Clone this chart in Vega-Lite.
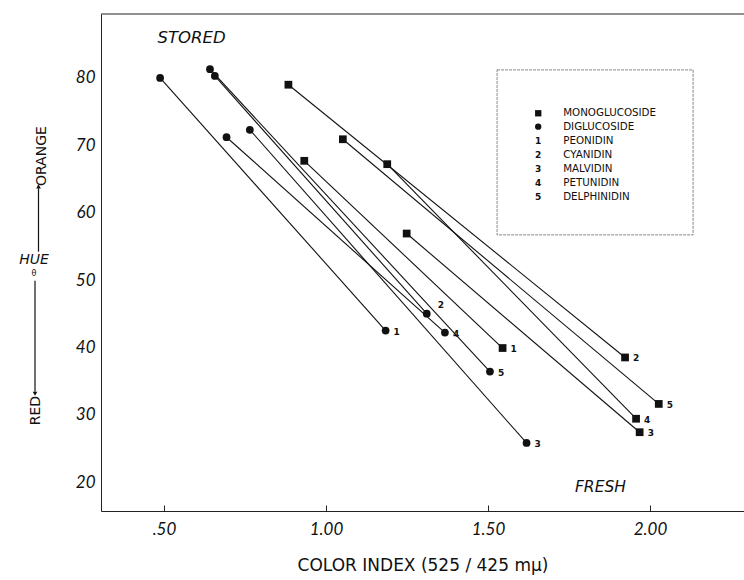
{
  "$schema": "https://vega.github.io/schema/vega-lite/v6.json",
  "width": 643,
  "height": 497,
  "autosize": {"type": "none"},
  "padding": {"left": 101, "top": 14, "right": 0, "bottom": 69},
  "background": "white",
  "config": {"view": {"stroke": null}, "font": "Lato"},
  "datasets": {
    "pts": [
      {"type": "DIGLUCOSIDE", "pigment": 1, "state": "stored", "ci": 0.488, "hue": 80.0},
      {"type": "DIGLUCOSIDE", "pigment": 1, "state": "fresh", "ci": 1.184, "hue": 42.5},
      {"type": "DIGLUCOSIDE", "pigment": 5, "state": "stored", "ci": 0.642, "hue": 81.3},
      {"type": "DIGLUCOSIDE", "pigment": 5, "state": "fresh", "ci": 1.506, "hue": 36.4},
      {"type": "DIGLUCOSIDE", "pigment": 2, "state": "stored", "ci": 0.657, "hue": 80.3},
      {"type": "DIGLUCOSIDE", "pigment": 2, "state": "fresh", "ci": 1.311, "hue": 45.0},
      {"type": "DIGLUCOSIDE", "pigment": 4, "state": "stored", "ci": 0.693, "hue": 71.2},
      {"type": "DIGLUCOSIDE", "pigment": 4, "state": "fresh", "ci": 1.367, "hue": 42.2},
      {"type": "DIGLUCOSIDE", "pigment": 3, "state": "stored", "ci": 0.765, "hue": 72.3},
      {"type": "DIGLUCOSIDE", "pigment": 3, "state": "fresh", "ci": 1.619, "hue": 25.8},
      {"type": "MONOGLUCOSIDE", "pigment": 2, "state": "stored", "ci": 0.884, "hue": 79.0},
      {"type": "MONOGLUCOSIDE", "pigment": 2, "state": "fresh", "ci": 1.923, "hue": 38.5},
      {"type": "MONOGLUCOSIDE", "pigment": 1, "state": "stored", "ci": 0.933, "hue": 67.7},
      {"type": "MONOGLUCOSIDE", "pigment": 1, "state": "fresh", "ci": 1.545, "hue": 39.9},
      {"type": "MONOGLUCOSIDE", "pigment": 5, "state": "stored", "ci": 1.052, "hue": 70.9},
      {"type": "MONOGLUCOSIDE", "pigment": 5, "state": "fresh", "ci": 2.027, "hue": 31.6},
      {"type": "MONOGLUCOSIDE", "pigment": 4, "state": "stored", "ci": 1.189, "hue": 67.2},
      {"type": "MONOGLUCOSIDE", "pigment": 4, "state": "fresh", "ci": 1.957, "hue": 29.4},
      {"type": "MONOGLUCOSIDE", "pigment": 3, "state": "stored", "ci": 1.249, "hue": 56.9},
      {"type": "MONOGLUCOSIDE", "pigment": 3, "state": "fresh", "ci": 1.968, "hue": 27.4}
    ],
    "legend": [
      {"key": "", "type": "MONOGLUCOSIDE", "label": "MONOGLUCOSIDE", "ly": 74.76},
      {"key": "", "type": "DIGLUCOSIDE", "label": "DIGLUCOSIDE", "ly": 72.77},
      {"key": "1", "label": "PEONIDIN", "ly": 70.69},
      {"key": "2", "label": "CYANIDIN", "ly": 68.56},
      {"key": "3", "label": "MALVIDIN", "ly": 66.44},
      {"key": "4", "label": "PETUNIDIN", "ly": 64.36},
      {"key": "5", "label": "DELPHINIDIN", "ly": 62.28}
    ]
  },
  "layer": [
    {
      "data": {"name": "pts"},
      "mark": {"type": "line", "color": "#111", "strokeWidth": 1.1},
      "encoding": {
        "x": {
          "field": "ci", "type": "quantitative",
          "scale": {"domain": [0.3056, 2.2901], "nice": false, "zero": false},
          "axis": {
            "values": [0.5, 1, 1.5, 2],
            "labelExpr": "datum.value == 0.5 ? '.50' : format(datum.value, '.2f')",
            "title": "COLOR INDEX (525 / 425 mμ)",
            "grid": false,
            "tickSize": -6,
            "tickColor": "#222",
            "domainColor": "#222",
            "labelFont": "Lato",
            "labelFontStyle": "italic",
            "labelFontSize": 17,
            "labelColor": "#111",
            "labelPadding": 16,
            "titleFont": "DejaVu Sans",
            "titleFontSize": 17,
            "titleFontWeight": "normal",
            "titleColor": "#111",
            "titlePadding": 20
          }
        },
        "y": {
          "field": "hue", "type": "quantitative",
          "scale": {"domain": [15.7, 89.5], "nice": false, "zero": false},
          "axis": {
            "values": [20, 30, 40, 50, 60, 70, 80],
            "title": null,
            "grid": false,
            "ticks": false,
            "domainColor": "#222",
            "labelFont": "Lato",
            "labelFontStyle": "italic",
            "labelFontSize": 17,
            "labelColor": "#111",
            "labelPadding": 6
          }
        },
        "detail": [{"field": "type"}, {"field": "pigment"}],
        "order": {"field": "ci"}
      }
    },
    {
      "data": {"name": "pts"},
      "mark": {"type": "point", "filled": true, "color": "#111", "opacity": 1, "size": 60},
      "encoding": {
        "x": {"field": "ci", "type": "quantitative"},
        "y": {"field": "hue", "type": "quantitative"},
        "shape": {"field": "type", "type": "nominal", "scale": {"domain": ["MONOGLUCOSIDE", "DIGLUCOSIDE"], "range": ["square", "circle"]}, "legend": null}
      }
    },
    {
      "data": {"name": "pts"},
      "transform": [{"filter": "datum.state == 'fresh' && !(datum.type == 'DIGLUCOSIDE' && datum.pigment == 2)"}],
      "mark": {"type": "text", "font": "DejaVu Sans", "fontSize": 9, "fontWeight": "bold", "align": "left", "baseline": "middle", "dx": 8, "dy": 1, "color": "#111"},
      "encoding": {
        "x": {"field": "ci", "type": "quantitative"},
        "y": {"field": "hue", "type": "quantitative"},
        "text": {"field": "pigment"}
      }
    },
    {
      "data": {"name": "pts"},
      "transform": [{"filter": "datum.state == 'fresh' && datum.type == 'DIGLUCOSIDE' && datum.pigment == 2"}],
      "mark": {"type": "text", "font": "DejaVu Sans", "fontSize": 9, "fontWeight": "bold", "align": "left", "baseline": "middle", "dx": 11, "dy": -9, "color": "#111"},
      "encoding": {
        "x": {"field": "ci", "type": "quantitative"},
        "y": {"field": "hue", "type": "quantitative"},
        "text": {"field": "pigment"}
      }
    },
    {
      "data": {"values": [{"t": "top"}]},
      "mark": {"type": "rule", "color": "#222", "strokeWidth": 1},
      "encoding": {"y": {"datum": 89.5, "type": "quantitative"}}
    },
    {
      "data": {"values": [{"t": "box"}]},
      "mark": {"type": "rect", "fill": null, "stroke": "#666", "strokeWidth": 0.8, "strokeDash": [3, 1]},
      "encoding": {
        "x": {"datum": 1.528, "type": "quantitative"},
        "x2": {"datum": 2.133},
        "y": {"datum": 81.2, "type": "quantitative"},
        "y2": {"datum": 56.7}
      }
    },
    {
      "data": {"name": "legend"},
      "transform": [{"filter": "isValid(datum.type)"}],
      "mark": {"type": "point", "filled": true, "color": "#111", "opacity": 1, "size": 40},
      "encoding": {
        "x": {"datum": 1.655, "type": "quantitative"},
        "y": {"field": "ly", "type": "quantitative"},
        "shape": {"field": "type", "type": "nominal", "legend": null}
      }
    },
    {
      "data": {"name": "legend"},
      "mark": {"type": "text", "font": "DejaVu Sans", "fontSize": 9, "fontWeight": "bold", "align": "center", "baseline": "middle", "color": "#111"},
      "encoding": {
        "x": {"datum": 1.655, "type": "quantitative"},
        "y": {"field": "ly", "type": "quantitative"},
        "text": {"field": "key"}
      }
    },
    {
      "data": {"name": "legend"},
      "mark": {"type": "text", "font": "DejaVu Sans", "fontSize": 10.3, "align": "left", "baseline": "middle", "color": "#111"},
      "encoding": {
        "x": {"datum": 1.732, "type": "quantitative"},
        "y": {"field": "ly", "type": "quantitative"},
        "text": {"field": "label"}
      }
    },
    {
      "data": {"values": [{"t": "STORED"}]},
      "mark": {"type": "text", "font": "DejaVu Sans", "fontStyle": "italic", "fontSize": 16.5, "align": "center", "baseline": "middle", "color": "#111"},
      "encoding": {
        "x": {"datum": 0.585, "type": "quantitative"},
        "y": {"datum": 86.0, "type": "quantitative"},
        "text": {"field": "t"}
      }
    },
    {
      "data": {"values": [{"t": "FRESH"}]},
      "mark": {"type": "text", "font": "DejaVu Sans", "fontStyle": "italic", "fontSize": 15.5, "align": "center", "baseline": "middle", "color": "#111"},
      "encoding": {
        "x": {"datum": 1.847, "type": "quantitative"},
        "y": {"datum": 19.3, "type": "quantitative"},
        "text": {"field": "t"}
      }
    },
    {
      "data": {"values": [{"t": "HUE"}]},
      "mark": {"type": "text", "font": "DejaVu Sans", "fontStyle": "italic", "fontSize": 14, "align": "center", "baseline": "middle", "color": "#111"},
      "encoding": {
        "x": {"datum": 0.0988, "type": "quantitative"},
        "y": {"datum": 52.9, "type": "quantitative"},
        "text": {"field": "t"}
      }
    },
    {
      "data": {"values": [{"t": "θ"}]},
      "mark": {"type": "text", "font": "DejaVu Sans", "fontSize": 8, "align": "center", "baseline": "middle", "color": "#111"},
      "encoding": {
        "x": {"datum": 0.0988, "type": "quantitative"},
        "y": {"datum": 50.9, "type": "quantitative"},
        "text": {"field": "t"}
      }
    },
    {
      "data": {"values": [{"t": "ORANGE"}]},
      "mark": {"type": "text", "font": "DejaVu Sans", "fontSize": 14, "angle": 270, "align": "center", "baseline": "middle", "color": "#111"},
      "encoding": {
        "x": {"datum": 0.125, "type": "quantitative"},
        "y": {"datum": 68.4, "type": "quantitative"},
        "text": {"field": "t"}
      }
    },
    {
      "data": {"values": [{"t": "RED"}]},
      "mark": {"type": "text", "font": "DejaVu Sans", "fontSize": 14, "angle": 270, "align": "center", "baseline": "middle", "color": "#111"},
      "encoding": {
        "x": {"datum": 0.1065, "type": "quantitative"},
        "y": {"datum": 30.6, "type": "quantitative"},
        "text": {"field": "t"}
      }
    },
    {
      "data": {"values": [{"t": "up"}]},
      "mark": {"type": "rule", "color": "#111", "strokeWidth": 1.2},
      "encoding": {
        "x": {"datum": 0.1127, "type": "quantitative"},
        "y": {"datum": 54.2, "type": "quantitative"},
        "y2": {"datum": 63.6}
      }
    },
    {
      "data": {"values": [{"t": "down"}]},
      "mark": {"type": "rule", "color": "#111", "strokeWidth": 1.2},
      "encoding": {
        "x": {"datum": 0.1019, "type": "quantitative"},
        "y": {"datum": 49.9, "type": "quantitative"},
        "y2": {"datum": 33.4}
      }
    },
    {
      "data": {"values": [{"t": "up"}]},
      "mark": {"type": "point", "shape": "triangle-up", "filled": true, "color": "#111", "opacity": 1, "size": 22},
      "encoding": {
        "x": {"datum": 0.1127, "type": "quantitative"},
        "y": {"datum": 63.9, "type": "quantitative"}
      }
    },
    {
      "data": {"values": [{"t": "down"}]},
      "mark": {"type": "point", "shape": "triangle-down", "filled": true, "color": "#111", "opacity": 1, "size": 22},
      "encoding": {
        "x": {"datum": 0.1019, "type": "quantitative"},
        "y": {"datum": 33.1, "type": "quantitative"}
      }
    }
  ]
}
